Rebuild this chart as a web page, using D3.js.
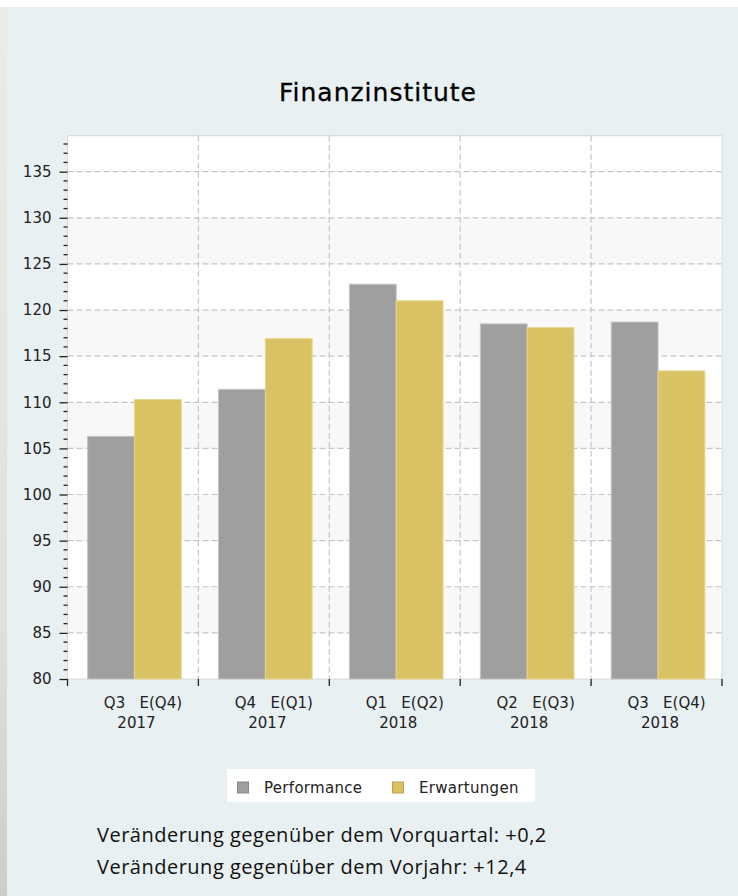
<!DOCTYPE html>
<html>
<head>
<meta charset="utf-8">
<script src="https://cdn.jsdelivr.net/npm/d3@7"></script>
<style>
  body { margin: 0; background: #ffffff; }
  svg { display: block; }
</style>
</head>
<body>
<div id="chart"></div>
<script>
// data
var categories = ["Q3 2017", "Q4 2017", "Q1 2018", "Q2 2018", "Q3 2018"];
var labelTop = ["Q3   E(Q4)", "Q4   E(Q1)", "Q1   E(Q2)", "Q2   E(Q3)", "Q3   E(Q4)"];
var labelYear = ["2017", "2017", "2018", "2018", "2018"];
var performance = [106.3, 111.4, 122.8, 118.5, 118.7];
var erwartungen = [110.3, 116.9, 121.0, 118.1, 113.4];
var seriesNames = ["Performance", "Erwartungen"];
var yTicks = [80, 85, 90, 95, 100, 105, 110, 115, 120, 125, 130, 135];
var notes = ["Veränderung gegenüber dem Vorquartal: +0,2", "Veränderung gegenüber dem Vorjahr: +12,4"];

var width = 738;
var height = 896;
var plot = {left: 67.5, right: 722, top: 135.7, bottom: 679};
var colors = ["#9f9f9f", "#d8c263"];

var svg = d3.select("#chart")
    .append("svg")
    .attr("width", width)
    .attr("height", height);

// page background + left photo edge
var defs = svg.append("defs");
var grad = defs.append("linearGradient").attr("id", "edge").attr("x1", 0).attr("x2", 0).attr("y1", 0).attr("y2", 1);
grad.append("stop").attr("offset", "0%").attr("stop-color", "#eeebe7");
grad.append("stop").attr("offset", "70%").attr("stop-color", "#e2dfdb");
grad.append("stop").attr("offset", "100%").attr("stop-color", "#cfccc9");
svg.append("rect").attr("width", width).attr("height", height).attr("fill", "#ffffff");
svg.append("rect").attr("x", 0).attr("y", 7).attr("width", 8).attr("height", height - 7).attr("fill", "url(#edge)");
svg.append("rect").attr("x", 7).attr("y", 7).attr("width", width - 7).attr("height", height - 7).attr("fill", "#e8f0f2");

// scales
var x = d3.scaleBand()
    .domain(categories)
    .range([plot.left, plot.right])
    .paddingInner(0.285)
    .paddingOuter(0.1425);
var xs = d3.scaleBand()
    .domain(seriesNames)
    .range([0, x.bandwidth()]);
var y = d3.scaleLinear()
    .domain([80, 138.9])
    .range([plot.bottom, plot.top]);

// plot background and bands
svg.append("rect")
    .attr("x", plot.left).attr("y", plot.top)
    .attr("width", plot.right - plot.left).attr("height", plot.bottom - plot.top)
    .attr("fill", "#ffffff")
    .attr("stroke", "#d8d8d8");
svg.selectAll(".band")
    .data(yTicks.filter(function(d, i) { return i % 2 == 1 && d < 135; }))
    .enter()
    .append("rect")
    .attr("class", "band")
    .attr("x", plot.left + 0.5)
    .attr("width", plot.right - plot.left - 1)
    .attr("y", function(d) { return y(d + 5); })
    .attr("height", function(d) { return y(d) - y(d + 5); })
    .attr("fill", "#f8f8f8");

// grid
svg.selectAll(".hgrid")
    .data(yTicks.slice(1))
    .enter()
    .append("line")
    .attr("x1", plot.left).attr("x2", plot.right)
    .attr("y1", function(d) { return y(d); }).attr("y2", function(d) { return y(d); })
    .attr("stroke", "#c6c6c6").attr("stroke-width", 1.2).attr("stroke-dasharray", "6,3");
svg.selectAll(".vgrid")
    .data(categories.slice(1))
    .enter()
    .append("line")
    .attr("x1", function(d) { return x(d) - x.step() * x.paddingInner() / 2; })
    .attr("x2", function(d) { return x(d) - x.step() * x.paddingInner() / 2; })
    .attr("y1", plot.top).attr("y2", plot.bottom)
    .attr("stroke", "#c6c6c6").attr("stroke-width", 1.2).attr("stroke-dasharray", "6,3");

// bars
var groups = svg.selectAll(".grp")
    .data(categories)
    .enter()
    .append("g")
    .attr("transform", function(d) { return "translate(" + (x(d) + 1.5) + ",0)"; });
groups.selectAll("rect")
    .data(function(d, i) { return [performance[i], erwartungen[i]]; })
    .enter()
    .append("rect")
    .attr("x", function(d, j) { return xs(seriesNames[j]); })
    .attr("width", xs.bandwidth())
    .attr("y", function(d) { return y(d); })
    .attr("height", function(d) { return y(80) - y(d); })
    .attr("fill", function(d, j) { return colors[j]; })
    .attr("stroke", function(d, j) { return j == 0 ? "#c4c4c4" : "#e6d68e"; })
    .attr("stroke-width", 1);

// y axis: major + minor ticks
var minor = d3.range(81, 139, 1).filter(function(d) { return d % 5 != 0; });
var yAxis = svg.append("g")
    .attr("transform", "translate(" + plot.left + ",0)")
    .call(d3.axisLeft(y).tickValues(yTicks).tickSize(8).tickPadding(8).tickFormat(d3.format("d")));
yAxis.select(".domain").remove();
yAxis.selectAll("line").attr("stroke", "#222").attr("stroke-width", 1.3);
yAxis.selectAll("text")
    .attr("font-family", "DejaVu Sans")
    .attr("font-size", 15)
    .attr("fill", "#222");
svg.append("g")
    .selectAll("line")
    .data(minor)
    .enter()
    .append("line")
    .attr("x1", plot.left - 4).attr("x2", plot.left)
    .attr("y1", function(d) { return y(d); }).attr("y2", function(d) { return y(d); })
    .attr("stroke", "#222").attr("stroke-width", 1.3);

// x axis ticks at category edges
var edges = categories.map(function(d) { return x(d) - x.step() * x.paddingInner() / 2; });
edges.push(plot.right);
svg.append("g")
    .selectAll("line")
    .data(edges)
    .enter()
    .append("line")
    .attr("x1", function(d) { return d; }).attr("x2", function(d) { return d; })
    .attr("y1", plot.bottom).attr("y2", plot.bottom + 7)
    .attr("stroke", "#222").attr("stroke-width", 1.3);

var xl = svg.append("g")
    .attr("font-family", "DejaVu Sans")
    .attr("font-size", 15)
    .attr("fill", "#222")
    .attr("text-anchor", "middle");
xl.selectAll(".l1")
    .data(categories)
    .enter()
    .append("text")
    .style("white-space", "pre")
    .attr("x", function(d) { return x(d) + x.bandwidth() / 2 + 10; })
    .attr("y", plot.bottom + 29)
    .text(function(d, i) { return labelTop[i]; });
xl.selectAll(".l2")
    .data(categories)
    .enter()
    .append("text")
    .attr("x", function(d) { return x(d) + x.bandwidth() / 2 + 3.5; })
    .attr("y", plot.bottom + 48.5)
    .text(function(d, i) { return labelYear[i]; });

// title
svg.append("text")
    .attr("x", 378)
    .attr("y", 101)
    .attr("text-anchor", "middle")
    .attr("font-family", "DejaVu Sans")
    .attr("font-size", 25)
    .attr("letter-spacing", 1)
    .attr("fill", "#000")
    .attr("stroke", "#000")
    .attr("stroke-width", 0.3)
    .text("Finanzinstitute");

// legend
var legend = svg.append("g").attr("transform", "translate(227,769)");
legend.append("rect").attr("width", 308).attr("height", 33).attr("fill", "#ffffff");
var legendX = [10, 165];
legend.selectAll("rect.sw")
    .data(seriesNames)
    .enter()
    .append("rect")
    .attr("class", "sw")
    .attr("x", function(d, i) { return legendX[i] + 0.5; })
    .attr("y", 13)
    .attr("width", 11).attr("height", 11)
    .attr("fill", function(d, i) { return colors[i]; })
    .attr("stroke", function(d, i) { return i == 0 ? "#888" : "#b9a248"; });
legend.selectAll("text")
    .data(seriesNames)
    .enter()
    .append("text")
    .attr("x", function(d, i) { return legendX[i] + 27; })
    .attr("y", 23.7)
    .attr("font-family", "DejaVu Sans")
    .attr("font-size", 15)
    .attr("letter-spacing", 0.3)
    .attr("fill", "#222")
    .text(function(d) { return d; });

// notes below chart
svg.selectAll(".note")
    .data(notes)
    .enter()
    .append("text")
    .attr("x", 97)
    .attr("y", function(d, i) { return 842 + i * 32; })
    .attr("font-family", "Open Sans")
    .attr("font-size", 20)
    .attr("letter-spacing", 0.5)
    .attr("fill", "#111")
    .text(function(d) { return d; });
</script>
</body>
</html>
